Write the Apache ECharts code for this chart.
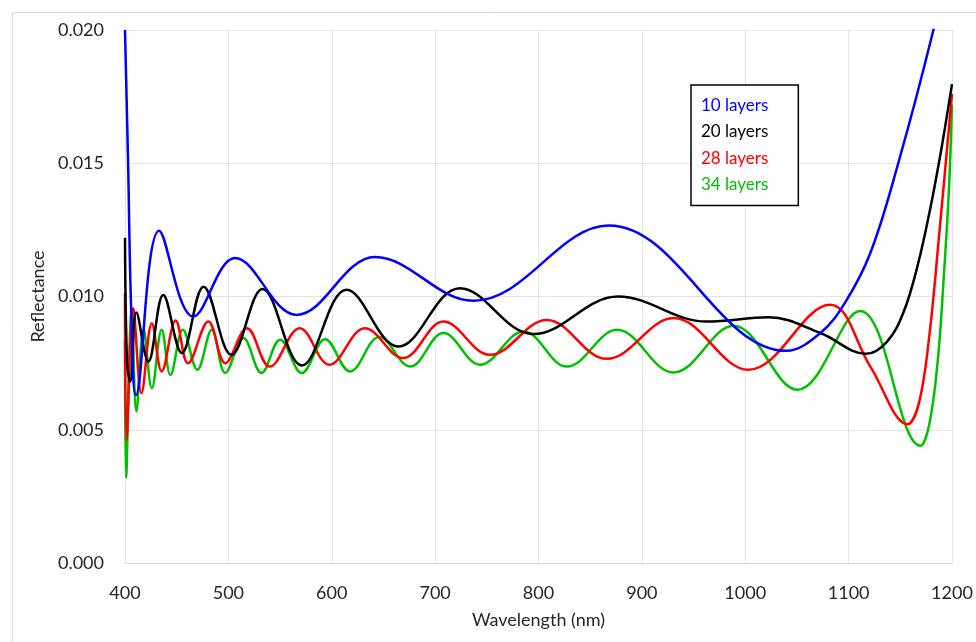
<!DOCTYPE html>
<html>
<head>
<meta charset="utf-8">
<script src="https://cdn.jsdelivr.net/npm/echarts@6/dist/echarts.min.js"></script>
<style>
html,body{margin:0;padding:0;background:#fff;}
#c{width:976px;height:642px;}
</style>
</head>
<body>
<div id="c"></div>
<script>
const seriesNames = ['10 layers', '20 layers', '28 layers', '34 layers'];
const seriesColors = ['#0000FF', '#000000', '#FF0000', '#00C000'];

const wl10 = [400, 403, 406, 410.6, 433, 466, 506.5, 566, 642, 737, 868, 1040, 1073, 1097, 1121, 1148, 1182, 1200];
const r10  = [0.0200, 0.0150, 0.0095, 0.0063, 0.01247, 0.00925, 0.01144, 0.00931, 0.01148, 0.00984, 0.01266, 0.00796, 0.00864, 0.0098, 0.01163, 0.0150, 0.0200, 0.0232];

const wl20 = [400, 402, 405, 411, 422.6, 437, 455, 476, 503, 533, 571, 614.5, 664.5, 724, 795, 877, 963, 1022.6, 1072.6, 1117, 1137, 1153, 1167, 1180, 1190, 1200];
const r20  = [0.0122, 0.0075, 0.0068, 0.0094, 0.00756, 0.01006, 0.00788, 0.01037, 0.00781, 0.01028, 0.00741, 0.01025, 0.00812, 0.01031, 0.00859, 0.0100, 0.00906, 0.00922, 0.00863, 0.00785, 0.0083, 0.0094, 0.0112, 0.0135, 0.0156, 0.01797];

const wl28 = [400, 401.5, 408, 416, 426, 435.5, 449, 461, 480.6, 497, 518, 540, 569, 597.7, 632, 669, 708, 753, 808, 866, 930.6, 1003, 1082, 1121, 1157, 1168, 1178, 1188, 1200];
const r28  = [0.0101, 0.0046, 0.00956, 0.00638, 0.0090, 0.00719, 0.0091, 0.0075, 0.00906, 0.0075, 0.00881, 0.00737, 0.00881, 0.00744, 0.00881, 0.00769, 0.00906, 0.00781, 0.00912, 0.00766, 0.00919, 0.00725, 0.00969, 0.00737, 0.00521, 0.0060, 0.0085, 0.0125, 0.0176];

const wl34 = [400, 401, 406.5, 411, 418, 426, 435.5, 444, 456, 470, 484, 497, 514.5, 532, 550, 571, 593.5, 617.7, 646, 676, 708, 743.5, 785.5, 827.5, 876, 930.6, 988.7, 1050.6, 1111, 1169.5, 1178, 1186, 1192, 1197, 1200];
const r34  = [0.0084, 0.0032, 0.00956, 0.00569, 0.00875, 0.00656, 0.00875, 0.00706, 0.00875, 0.00725, 0.00875, 0.00713, 0.00844, 0.00713, 0.00838, 0.00713, 0.0084, 0.00719, 0.00848, 0.00737, 0.00863, 0.00744, 0.00869, 0.00737, 0.00875, 0.00715, 0.0089, 0.0065, 0.00946, 0.0044, 0.0052, 0.0075, 0.0107, 0.0140, 0.0172];

const xTicks = [400, 500, 600, 700, 800, 900, 1000, 1100, 1200];
const yTicks = [0, 0.005, 0.010, 0.015, 0.020];

const allX = [wl10, wl20, wl28, wl34];
const allY = [r10, r20, r28, r34];

const chart = echarts.init(document.getElementById('c'), null, {renderer: 'canvas'});
const FONT = 'Lato';

const series = seriesNames.map((name, i) => ({
  name: name,
  type: 'line',
  data: allX[i].map((x, k) => [x, allY[i][k]]),
  smooth: 0.38,
  symbol: 'none',
  clip: true,
  lineStyle: {color: seriesColors[i], width: 2.5},
  itemStyle: {color: seriesColors[i]},
  z: 10 - i
}));

chart.setOption({
  animation: false,
  backgroundColor: '#fff',
  textStyle: {fontFamily: FONT},
  graphic: [{
    type: 'rect', left: 10, top: 10, shape: {width: 1000, height: 1000},
    style: {fill: 'none', stroke: '#d9d9d9', lineWidth: 1}, silent: true, z: -10
  }],
  grid: {left: 125, right: 24, top: 30, bottom: 79, containLabel: false},
  legend: {
    orient: 'vertical',
    left: 691, top: 85,
    icon: 'none',
    itemWidth: 0, itemHeight: 12,
    itemGap: 9.5,
    padding: [12, 30, 12, 5],
    borderColor: '#000', borderWidth: 1.5,
    backgroundColor: '#fff',
    textStyle: {fontFamily: FONT, fontSize: 17},
    data: seriesNames.map((n, i) => ({name: n, textStyle: {color: seriesColors[i]}})),
    selectedMode: false
  },
  xAxis: {
    type: 'value', min: xTicks[0], max: xTicks[xTicks.length - 1], interval: 100,
    name: 'Wavelength (nm)', nameLocation: 'middle', nameGap: 48,
    nameTextStyle: {fontFamily: FONT, fontSize: 18, color: '#262626'},
    axisLine: {show: true, lineStyle: {color: '#d9d9d9', width: 1}},
    axisTick: {show: false},
    axisLabel: {fontFamily: FONT, fontSize: 18, color: '#262626', margin: 21,
      formatter: v => String(v)},
    splitLine: {show: true, lineStyle: {color: '#e3e3e3', width: 1}}
  },
  yAxis: {
    type: 'value', min: yTicks[0], max: yTicks[yTicks.length - 1], interval: 0.005,
    name: 'Reflectance', nameLocation: 'middle', nameGap: 76,
    nameTextStyle: {fontFamily: FONT, fontSize: 18, color: '#262626'},
    axisLine: {show: false},
    axisTick: {show: false},
    axisLabel: {fontFamily: FONT, fontSize: 18, color: '#262626', margin: 21,
      formatter: v => v.toFixed(3)},
    splitLine: {show: true, lineStyle: {color: '#e3e3e3', width: 1}}
  },
  series: series
});
</script>
</body>
</html>
